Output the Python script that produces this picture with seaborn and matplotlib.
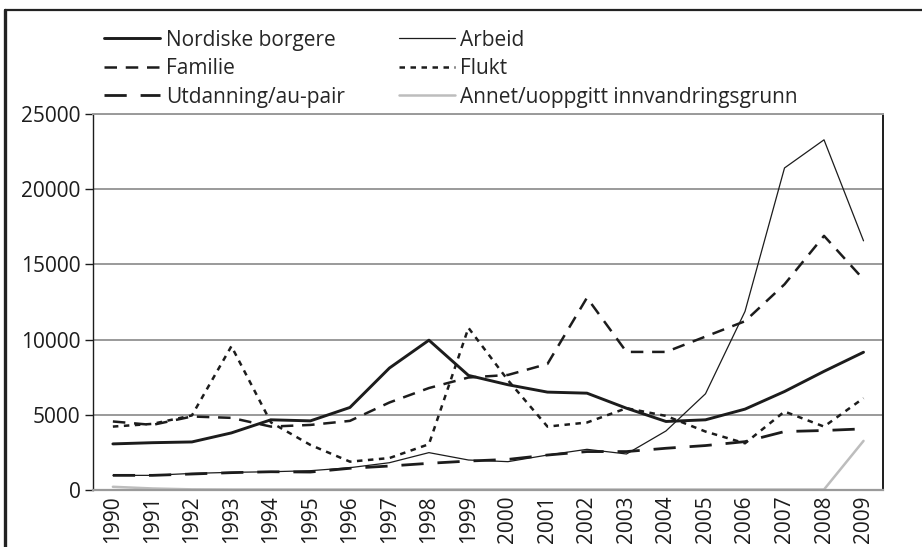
import matplotlib
matplotlib.use("Agg")
import matplotlib.pyplot as plt
from matplotlib.lines import Line2D
import pandas as pd
import seaborn as sns

# ---- data ----
years = [str(y) for y in range(1990, 2010)]

nordiske = [3070, 3150, 3200, 3800, 4670, 4600, 5490, 8110, 9960, 7620,
            7000, 6510, 6440, 5440, 4560, 4670, 5380, 6550, 7890, 9160]
arbeid = [980, 980, 1110, 1180, 1220, 1290, 1490, 1820, 2490, 2000,
          1890, 2330, 2710, 2400, 3930, 6400, 11870, 21400, 23270, 16560]
familie = [4560, 4330, 4890, 4800, 4220, 4330, 4600, 5820, 6780, 7480,
           7650, 8380, 12780, 9180, 9180, 10200, 11220, 13670, 16890, 14000]
flukt = [4220, 4400, 4960, 9560, 4500, 3000, 1890, 2130, 3050, 10780,
         7300, 4220, 4490, 5440, 4930, 3890, 3110, 5220, 4220, 6110]
utdanning = [980, 980, 1070, 1160, 1220, 1200, 1450, 1600, 1780, 1930,
             2040, 2330, 2560, 2560, 2780, 2960, 3220, 3890, 3960, 4070]
annet = [220, 110, 50, 40, 40, 40, 40, 40, 40, 40,
         40, 40, 40, 40, 40, 40, 40, 40, 40, 3270]

y_ticks = [0, 5000, 10000, 15000, 20000, 25000]

df = pd.DataFrame({
    "år": years,
    "Nordiske borgere": nordiske,
    "Arbeid": arbeid,
    "Familie": familie,
    "Flukt": flukt,
    "Utdanning/au-pair": utdanning,
    "Annet/uoppgitt innvandringsgrunn": annet,
})

# ---- style ----
sns.set_style("white")
plt.rcParams["font.family"] = ["Open Sans", "DejaVu Sans"]

ink = "#1c1c1c"
grid_c = "#9a9a9a"
fs = 15

styles = {
    "Nordiske borgere": dict(color=ink, lw=2.1, ls="-"),
    "Arbeid": dict(color=ink, lw=0.9, ls="-"),
    "Familie": dict(color=ink, lw=1.8, ls=(0, (5, 3.5))),
    "Flukt": dict(color=ink, lw=1.8, ls=(0, (2.2, 2.2))),
    "Utdanning/au-pair": dict(color=ink, lw=2.0, ls=(0, (8, 5))),
    "Annet/uoppgitt innvandringsgrunn": dict(color="#bdbdbd", lw=1.8, ls="-"),
}

fig = plt.figure(figsize=(9.22, 5.47), dpi=100)
ax = fig.add_axes([0.101, 0.104, 0.857, 0.688])

handles = {}
for name, st in styles.items():
    sns.lineplot(data=df, x="år", y=name, ax=ax, color=st["color"],
                 linewidth=st["lw"], linestyle=st["ls"], sort=False)
    handles[name] = Line2D([], [], color=st["color"], lw=st["lw"], ls=st["ls"])

ax.set_xlim(-0.5, len(years) - 0.5)
ax.set_ylim(0, 25000)
ax.set_yticks(y_ticks)
ax.set_yticklabels([str(v) for v in y_ticks], fontsize=fs, color=ink)
ax.tick_params(axis="y", direction="out", length=6, width=1, color=ink, pad=3, left=True)
ax.tick_params(axis="x", length=0, labelsize=fs, labelcolor=ink, pad=4)
plt.setp(ax.get_xticklabels(), rotation=90)
ax.set_xlabel("")
ax.set_ylabel("")

for v in y_ticks[1:]:
    ax.axhline(v, color=grid_c, lw=1.4, zorder=0)

ax.spines["left"].set_color(ink)
ax.spines["left"].set_linewidth(1.0)
ax.spines["right"].set_color(ink)
ax.spines["right"].set_linewidth(1.4)
ax.spines["top"].set_color(grid_c)
ax.spines["top"].set_linewidth(1.4)
ax.spines["bottom"].set_color(grid_c)
ax.spines["bottom"].set_linewidth(1.6)

order = ["Nordiske borgere", "Familie", "Utdanning/au-pair",
         "Arbeid", "Flukt", "Annet/uoppgitt innvandringsgrunn"]
fig.legend([handles[k] for k in order], order, ncol=2, frameon=False,
           loc="upper left", bbox_to_anchor=(0.113, 0.946),
           fontsize=fs, handlelength=2.7, handletextpad=0.25,
           columnspacing=2.6, labelspacing=0.36, borderaxespad=0,
           borderpad=0)

# outer frame of the figure (left and top edges visible)
fig.add_artist(Line2D([5 / 922, 5 / 922], [0, 1 - 10 / 547],
                      transform=fig.transFigure, color="#222222", lw=2.4))
fig.add_artist(Line2D([5 / 922, 1], [1 - 10 / 547, 1 - 10 / 547],
                      transform=fig.transFigure, color="#222222", lw=1.6))

fig.savefig("out.png", dpi=100)
